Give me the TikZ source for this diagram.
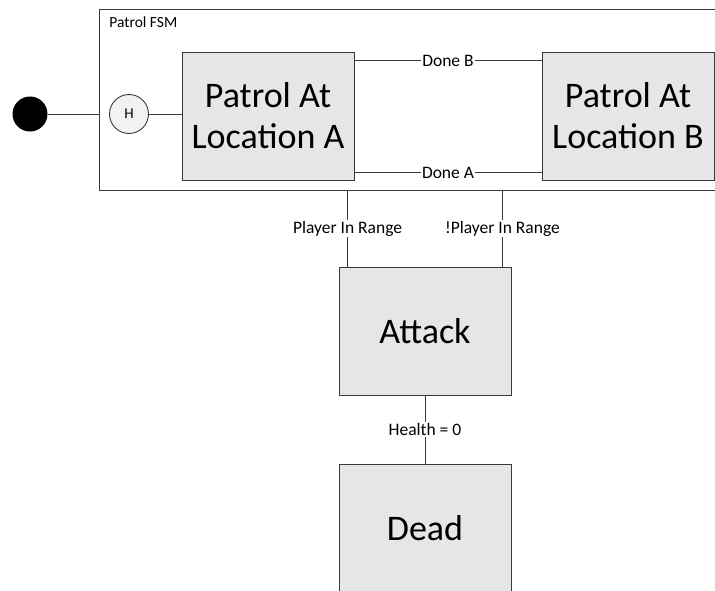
\documentclass[tikz,border=0pt]{standalone}
\usepackage{fontspec}
\setmainfont{Carlito}
\definecolor{boxfill}{HTML}{E6E6E6}
\definecolor{hfill}{HTML}{F2F2F2}
\definecolor{edge}{HTML}{3A3A3A}
\begin{document}
\begin{tikzpicture}[x=1pt,y=-1pt,line width=0.9pt,
  state/.style={draw=edge,fill=boxfill,minimum width=172pt,minimum height=128pt,inner sep=0pt,align=center,font=\fontsize{36}{41}\selectfont},
  lbl/.style={fill=white,inner sep=1pt,font=\fontsize{17.5}{20}\selectfont},
  conn/.style={draw=edge}]
\useasboundingbox (0,0) rectangle (715,590);
\begin{scope}
\clip (0,0) rectangle (715,590);
\node[draw=edge,fill=white,minimum width=631pt,minimum height=181pt,inner sep=0pt] (fsm) at (414.5,99.5) {};
\node[anchor=west,font=\fontsize{15.5}{18}\selectfont,inner sep=0pt] (fsmlbl) at (109,22) {Patrol FSM};
\node[circle,fill=black,minimum size=35pt,inner sep=0pt] (init) at (30,114) {};
\node[circle,draw=edge,fill=hfill,minimum size=39pt,inner sep=0pt,font=\fontsize{15}{17}\selectfont] (hist) at (129,114) {H};
\node[state] (A) at (268,116) {Patrol At\\Location A};
\node[state] (B) at (628,116) {Patrol At\\Location B};
\node[state] (attack) at (425,331) {Attack};
\node[state] (dead) at (425,528) {Dead};
\draw[conn] (init) -- (init -| fsm.west);
\draw[conn] (hist) -- (hist -| A.west);
\draw[conn] ([yshift=-9pt]A.north east) -- node[lbl] {Done B} ([yshift=-9pt]B.north west);
\draw[conn] ([yshift=8pt]A.south east) -- node[lbl] {Done A} ([yshift=8pt]B.south west);
\coordinate (pirT) at ([xshift=9pt]attack.north west |- fsm.south);
\coordinate (npirT) at ([xshift=-9pt]attack.north east |- fsm.south);
\draw[conn] (pirT) -- node[lbl] {Player In Range} ([xshift=9pt]attack.north west);
\draw[conn] (npirT) -- node[lbl] {!Player In Range} ([xshift=-9pt]attack.north east);
\draw[conn] (attack.south) -- node[lbl] {Health = 0} (dead.north);
\end{scope}
\end{tikzpicture}
\end{document}
